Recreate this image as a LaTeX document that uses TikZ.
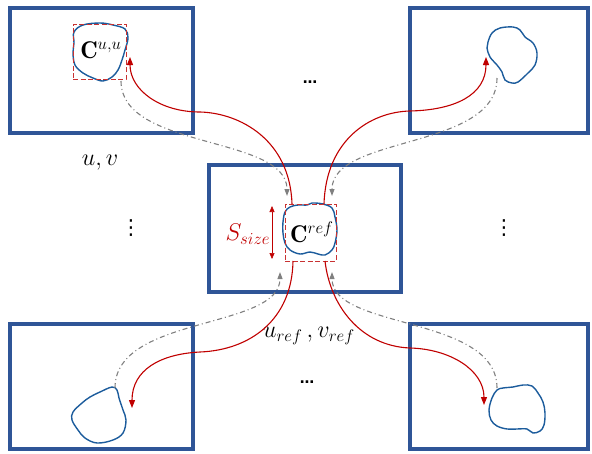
\documentclass[tikz,border=0pt]{standalone}
\usepackage{fontspec}
\newfontfamily\dejavu{DejaVu Sans}
\usetikzlibrary{arrows.meta}
\definecolor{boxblue}{RGB}{47,85,151}
\definecolor{blobblue}{RGB}{28,92,156}
\definecolor{darkred}{RGB}{192,0,0}
\definecolor{sqred}{RGB}{200,50,50}
\definecolor{grayline}{RGB}{128,128,128}
\tikzset{
  frame/.style={draw=boxblue,line width=3.5pt,inner sep=0pt,minimum width=#1},
  blob/.style={draw=blobblue,line width=1.4pt},
  dsq/.style={draw=sqred,dash pattern=on 5pt off 2.5pt,line width=1pt,inner sep=0pt},
  redarr/.style={draw=darkred,line width=1.1pt,-{Triangle[length=8pt,width=6pt]}},
  grayarr/.style={draw=grayline,line width=1.1pt,dash pattern=on 5pt off 3pt on 1pt off 3pt,-{Triangle[length=7pt,width=5pt]}},
  lbl/.style={font=\LARGE,scale=1.4,inner sep=0pt},
  hdots/.style={font=\dejavu\bfseries\Large,inner sep=0pt},
  vdots/.style={font=\dejavu\huge,inner sep=0pt},
}
\begin{document}
\begin{tikzpicture}[x=1pt,y=-1pt]
\useasboundingbox (0,0) rectangle (592,453);
% frames
\node[frame=183,minimum height=125] (bTL) at (101.5,70.5) {};
\node[frame=178,minimum height=125] (bTR) at (499,70.5) {};
\node[frame=192,minimum height=127] (bC) at (305,228.5) {};
\node[frame=183,minimum height=125] (bBL) at (101.5,386.5) {};
\node[frame=178,minimum height=125] (bBR) at (499,386.5) {};
% blobs
\draw[blob] plot[smooth cycle,tension=0.6] coordinates {(74,32) (83,25) (100,23) (113,25) (125,29) (128,38) (125,50) (122,60) (118,70) (112,77) (103,81) (93,78) (83,73) (75,65) (73,53) (74,43)};
\draw[blob] plot[smooth cycle,tension=0.6] coordinates {(285,212) (290,207) (298,205) (307,205) (312,203) (323,204) (332,208) (335,217) (337,230) (335,243) (332,250) (325,255) (318,254) (310,252) (300,254) (290,250) (285,243) (283,233) (283,222)};
\draw[blob] plot[smooth cycle,tension=0.6] coordinates {(488,42) (492,33) (500,28) (513,27) (520,30) (525,37) (533,43) (537,53) (535,65) (528,73) (518,82) (512,83) (505,80) (502,72) (497,65) (490,57) (487,48)};
\draw[blob] plot[smooth cycle,tension=0.6] coordinates {(112,387) (117,390) (119,398) (123,410) (126,420) (123,433) (113,440) (97,443) (85,438) (78,430) (72,420) (73,412) (82,403) (90,397) (100,392)};
\draw[blob] plot[smooth cycle,tension=0.6] coordinates {(497,390) (503,388) (513,387) (523,385) (532,386) (538,393) (543,402) (545,413) (544,425) (540,431) (533,433) (527,429) (517,429) (507,429) (497,426) (491,420) (489,410) (492,398)};
% dashed squares
\node[dsq,minimum width=53,minimum height=55] (sqTL) at (99.5,51.5) {};
\node[dsq,minimum width=51,minimum height=57] (sqC) at (310.5,232.5) {};
% labels
\node[lbl] (cuu) at (101,50) {$\mathbf{C}^{u,u}$};
\node[lbl] (cref) at (312,232) {$\mathbf{C}^{ref}$};
\node[lbl,text=darkred] (ssize) at (248,234) {$S_{size}$};
\node[lbl] (uv) at (100,163) {$u,v$};
\node[lbl] (uvref) at (309,336) {$u_{ref}\,,v_{ref}$};
\node[vdots] (vdl) at (131,228) {⋮};
\node[vdots] (vdr) at (504,228) {⋮};
\node[hdots] (hdt) at (310,82) {…};
\node[hdots] (hdb) at (307,382) {…};
% anchor coordinates
\coordinate (rs1) at (292,204);
\coordinate (rm1) at (200,112);
\coordinate (re1) at (130,57);
\coordinate (rs2) at (324,204);
\coordinate (rm2) at (410,111);
\coordinate (re2) at (486,57);
\coordinate (rs3) at (293,261);
\coordinate (rm3) at (200,352);
\coordinate (re3) at (132,408);
\coordinate (rs4) at (325,261);
\coordinate (rm4) at (410,348);
\coordinate (re4) at (484,405);
\coordinate (gs1) at (121,81);
\coordinate (ge1) at (287,196);
\coordinate (gs2) at (497,78);
\coordinate (ge2) at (332,196);
\coordinate (gs3) at (115,388);
\coordinate (ge3) at (280,272);
\coordinate (gs4) at (497,388);
\coordinate (ge4) at (332,272);
\coordinate (sa) at (272,206);
\coordinate (sb) at (272,259);
% red connectors
\draw[redarr] (rs1) .. controls (290,140) and (240,113) .. (rm1) .. controls (160,112) and (130,90) .. (re1);
\draw[redarr] (rs2) .. controls (326,140) and (370,112) .. (rm2) .. controls (455,110) and (486,95) .. (re2);
\draw[redarr] (rs3) .. controls (292,320) and (250,350) .. (rm3) .. controls (160,354) and (132,370) .. (re3);
\draw[redarr] (rs4) .. controls (330,305) and (360,346) .. (rm4) .. controls (450,349) and (484,370) .. (re4);
% gray connectors
\draw[grayarr] (gs1) .. controls (121,150) and (287,135) .. (ge1);
\draw[grayarr] (gs2) .. controls (497,150) and (332,135) .. (ge2);
\draw[grayarr] (gs3) .. controls (115,315) and (280,330) .. (ge3);
\draw[grayarr] (gs4) .. controls (497,315) and (332,330) .. (ge4);
% size arrow
\draw[darkred,line width=0.6pt,{Triangle[length=6pt,width=5pt]}-{Triangle[length=6pt,width=5pt]}] (sa) -- (sb);
\end{tikzpicture}
\end{document}
